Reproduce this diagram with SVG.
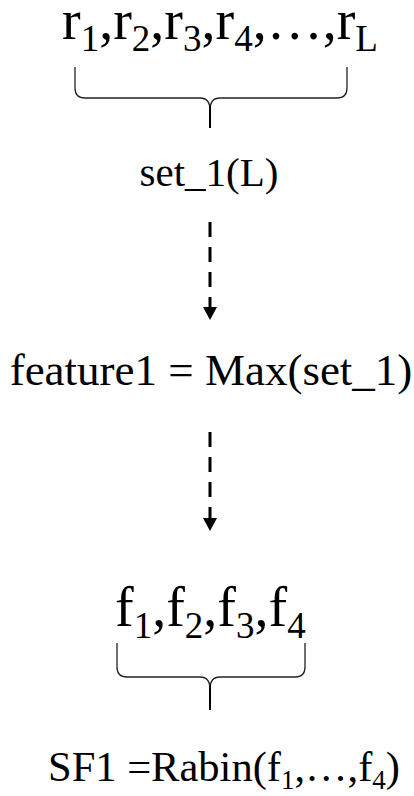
<svg xmlns="http://www.w3.org/2000/svg" width="414" height="796" viewBox="0 0 414 796">
  <style>
    text { font-family: "Liberation Serif", "Times New Roman", serif; fill: #000; }
    .big { font-size: 56px; }
    .big .sub { font-size: 37px; }
    .set { font-size: 41px; }
    .feat { font-size: 45px; }
    .sf { font-size: 42.5px; }
    .sf .sub { font-size: 27px; }
    .brace { fill: none; stroke: #222; stroke-width: 1.3; }
    .stem { fill: none; stroke: #000; stroke-width: 2; }
    .flow { stroke: #000; stroke-width: 3; stroke-dasharray: 15 10; }
  </style>
  <defs>
    <!-- downward arrowhead: path points along +x, rotated by orient="auto" -->
    <marker id="head" markerWidth="13" markerHeight="14" viewBox="0 0 13 14" refX="0" refY="7" orient="auto" markerUnits="userSpaceOnUse">
      <path d="M0,0 L13,7 L0,14 Z" fill="#000"/>
    </marker>
  </defs>

  <g id="sequence-r">
    <text class="big" x="62" y="39">r<tspan class="sub" dy="12">1</tspan><tspan dy="-12">,r</tspan><tspan class="sub" dy="12">2</tspan><tspan dy="-12">,r</tspan><tspan class="sub" dy="12">3</tspan><tspan dy="-12">,r</tspan><tspan class="sub" dy="12">4</tspan><tspan dy="-12">,…,r</tspan><tspan class="sub" dy="12">L</tspan></text>
    <path class="brace" d="M75,67 L75,88 Q75,98 85,98 L200,98 Q210,98 210,110"/>
    <path class="brace" d="M347,67 L347,88 Q347,98 337,98 L220,98 Q210,98 210,110"/>
    <path class="stem" d="M210,106 L210,128"/>
  </g>

  <g id="set1">
    <text class="set" x="209" y="186" text-anchor="middle">set_1(L)</text>
  </g>

  <g id="feature1">
    <text class="feat" x="211" y="385" text-anchor="middle">feature1 = Max(set_1)</text>
  </g>

  <g id="sequence-f">
    <text class="big" x="115" y="626">f<tspan class="sub" dy="12">1</tspan><tspan dy="-12">,f</tspan><tspan class="sub" dy="12">2</tspan><tspan dy="-12">,f</tspan><tspan class="sub" dy="12">3</tspan><tspan dy="-12">,f</tspan><tspan class="sub" dy="12">4</tspan></text>
    <path class="brace" d="M117,643 L117,667 Q117,677 127,677 L200,677 Q210,677 210,689"/>
    <path class="brace" d="M305,643 L305,667 Q305,677 295,677 L220,677 Q210,677 210,689"/>
    <path class="stem" d="M210,685 L210,710"/>
  </g>

  <g id="sf1">
    <text class="sf" x="48" y="781">SF1 =Rabin(f<tspan class="sub" dy="8">1</tspan><tspan dy="-8">,…,f</tspan><tspan class="sub" dy="8">4</tspan><tspan dy="-8">)</tspan></text>
  </g>

  <g id="connectors">
    <line class="flow" x1="210" y1="222" x2="210" y2="307" marker-end="url(#head)"/>
    <line class="flow" x1="210" y1="432" x2="210" y2="518" marker-end="url(#head)"/>
  </g>
</svg>
